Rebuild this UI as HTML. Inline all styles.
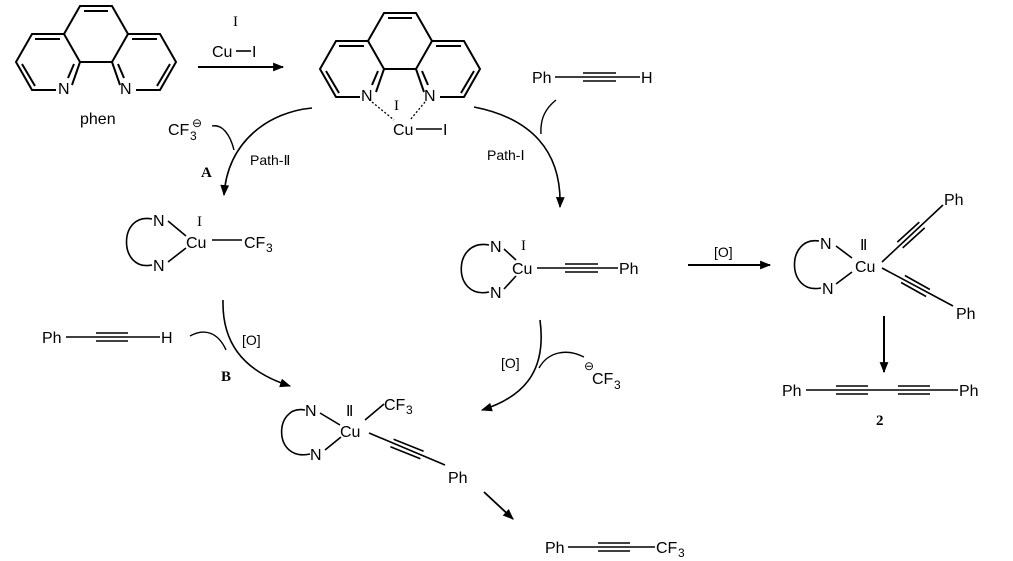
<!DOCTYPE html>
<html><head><meta charset="utf-8"><style>
html,body{margin:0;padding:0;background:#fff;width:1013px;height:561px;overflow:hidden}
svg{display:block}
text{font-family:"Liberation Sans",Arial,sans-serif;font-size:16px;fill:#000}
.s{font-family:"Liberation Serif",serif;font-size:15px}
.b{font-family:"Liberation Serif",serif;font-size:15px;font-weight:bold}
.sm{font-size:12px}
</style></head><body>
<svg width="1013" height="561" viewBox="0 0 1013 561" xmlns="http://www.w3.org/2000/svg">
<defs>
<marker id="ah" viewBox="0 0 10 10" refX="9" refY="5" markerWidth="12" markerHeight="11" orient="auto" markerUnits="userSpaceOnUse"><path d="M0,1 L10,5 L0,9 z" fill="#000"/></marker>
<g id="phen" fill="none" stroke="#000" stroke-width="2">
<path d="M64,34 L80,6 L112,6 L128,34"/>
<path d="M84,11 L108,11"/>
<path d="M80,62 L112,62"/>
<path d="M64,34 L80,62 M128,34 L112,62"/>
<path d="M64,34 L32,34 L16,62 L32,90 L56,90 M72,85 L80,62"/>
<path d="M35,39 L60,39 M22,64 L35,86 M74,64 L68,78"/>
<path d="M128,34 L160,34 L176,62 L160,90 L136,90 M120,85 L112,62"/>
<path d="M132,39 L157,39 M170,64 L157,86 M118,64 L124,78"/>
</g>
</defs>

<use href="#phen"/>
<text x="58" y="94">N</text>
<text x="120" y="94">N</text>
<text x="80" y="124">phen</text>

<line x1="198" y1="67" x2="283" y2="67" stroke="#000" stroke-width="2" marker-end="url(#ah)"/>
<text class="s" x="233" y="26">I</text>
<text x="212" y="57">Cu</text>
<line x1="236" y1="51" x2="251" y2="51" stroke="#000" stroke-width="1.6"/>
<text x="252" y="57">I</text>

<g transform="translate(304,7)"><use href="#phen"/></g>
<text x="361" y="101">N</text>
<text x="424" y="101">N</text>
<path d="M372,102 L394,120 M425,102 L410,120" stroke="#000" stroke-width="1.3" stroke-dasharray="2,2" fill="none"/>
<text class="s" x="394" y="110">I</text>
<text x="393" y="135">Cu</text>
<line x1="416" y1="129" x2="442" y2="129" stroke="#000" stroke-width="1.6"/>
<text x="443" y="135">I</text>

<path d="M312,108 C270,112 228,140 224,195" fill="none" stroke="#000" stroke-width="1.6" marker-end="url(#ah)"/>
<path d="M212,126 C222,124 230,134 234,150" fill="none" stroke="#000" stroke-width="1.4"/>
<text x="168" y="135">CF</text><text class="sm" x="190" y="140">3</text><text class="sm" x="192" y="127">⊖</text>
<text x="250" y="165" style="font-size:14px">Path-Ⅱ</text>
<text class="b" x="201" y="177">A</text>

<text x="153" y="226">N</text>
<text x="153" y="271">N</text>
<path d="M152,219 C118,212 118,272 152,265" fill="none" stroke="#000" stroke-width="1.6"/>
<path d="M168,221 L186,236 M168,262 L186,248" stroke="#000" stroke-width="1.6"/>
<text class="s" x="197" y="226">I</text>
<text x="186" y="248">Cu</text>
<line x1="212" y1="240" x2="242" y2="240" stroke="#000" stroke-width="1.6"/>
<text x="244" y="248">CF</text><text class="sm" x="266" y="252">3</text>

<text x="532" y="83">Ph</text>
<path d="M555,77 L640,77 M583,73 L616,73 M583,81 L616,81" stroke="#000" stroke-width="1.6"/>
<text x="641" y="83">H</text>

<path d="M474,107 C530,118 562,150 560,207" fill="none" stroke="#000" stroke-width="1.6" marker-end="url(#ah)"/>
<path d="M556,100 C546,108 540,118 541,134" fill="none" stroke="#000" stroke-width="1.4"/>
<text x="487" y="160" style="font-size:14px">Path-Ⅰ</text>

<text x="490" y="252">N</text>
<text x="490" y="298">N</text>
<path d="M489,245 C452,238 452,300 489,292" fill="none" stroke="#000" stroke-width="1.6"/>
<path d="M504,249 L516,260 M504,289 L516,276" stroke="#000" stroke-width="1.6"/>
<text class="s" x="521" y="250">I</text>
<text x="512" y="274">Cu</text>
<path d="M537,268 L618,268 M565,264 L598,264 M565,272 L598,272" stroke="#000" stroke-width="1.6"/>
<text x="619" y="274">Ph</text>

<line x1="688" y1="265" x2="770" y2="265" stroke="#000" stroke-width="2" marker-end="url(#ah)"/>
<text x="714" y="257" style="font-size:14px">[O]</text>

<text x="820" y="249">N</text>
<text x="822" y="294">N</text>
<path d="M819,241 C786,236 786,295 821,288" fill="none" stroke="#000" stroke-width="1.6"/>
<path d="M836,246 L852,258 M836,284 L852,272" stroke="#000" stroke-width="1.6"/>
<text class="s" x="860" y="250">Ⅱ</text>
<text x="855" y="272">Cu</text>
<path d="M882,262 L943,205 M902.7,247.9 L924.7,227.9 M897.3,242.1 L919.3,222.1" stroke="#000" stroke-width="1.6"/>
<text x="944" y="205">Ph</text>
<path d="M882,268 L953,306 M901.1,282.5 L926.1,296.5 M904.9,275.5 L929.9,289.5" stroke="#000" stroke-width="1.6"/>
<text x="956" y="319">Ph</text>

<line x1="884" y1="316" x2="884" y2="372" stroke="#000" stroke-width="2" marker-end="url(#ah)"/>
<text x="782" y="396">Ph</text>
<path d="M806,390 L958,390 M836,386 L868,386 M836,394 L868,394 M898,386 L930,386 M898,394 L930,394" stroke="#000" stroke-width="1.6"/>
<text x="959" y="396">Ph</text>
<text class="b" x="876" y="425">2</text>

<text x="42" y="343">Ph</text>
<path d="M66,337 L160,337 M96,333 L128,333 M96,341 L128,341" stroke="#000" stroke-width="1.6"/>
<text x="161" y="343">H</text>
<path d="M223,300 C222,340 240,370 290,386" fill="none" stroke="#000" stroke-width="1.6" marker-end="url(#ah)"/>
<path d="M190,336 C204,328 218,332 226,350" fill="none" stroke="#000" stroke-width="1.4"/>
<text x="242" y="345" style="font-size:14px">[O]</text>
<text class="b" x="221" y="381">B</text>

<path d="M540,320 C546,365 530,395 482,410" fill="none" stroke="#000" stroke-width="1.6" marker-end="url(#ah)"/>
<path d="M539,368 C548,352 566,348 584,357" fill="none" stroke="#000" stroke-width="1.4"/>
<text x="501" y="368" style="font-size:14px">[O]</text>
<text class="sm" x="584" y="370">⊖</text><text x="592" y="384">CF</text><text class="sm" x="614" y="389">3</text>

<text x="305" y="416">N</text>
<text x="310" y="460">N</text>
<path d="M305,410 C274,404 272,462 310,454" fill="none" stroke="#000" stroke-width="1.6"/>
<path d="M320,413 L340,425 M325,450 L341,437" stroke="#000" stroke-width="1.6"/>
<text class="s" x="346" y="416">Ⅱ</text>
<text x="340" y="437">Cu</text>
<path d="M365,420 L384,404" stroke="#000" stroke-width="1.6"/>
<text x="384" y="410">CF</text><text class="sm" x="406" y="414">3</text>
<path d="M369,433 L445,465 M393.6,439.3 L423.6,451.3 M390.4,446.7 L420.4,458.7" stroke="#000" stroke-width="1.6"/>
<text x="448" y="483">Ph</text>
<line x1="484" y1="492" x2="513" y2="519" stroke="#000" stroke-width="1.8" marker-end="url(#ah)"/>

<text x="545" y="553">Ph</text>
<path d="M568,547 L655,547 M598,543 L630,543 M598,551 L630,551" stroke="#000" stroke-width="1.6"/>
<text x="656" y="553">CF</text><text class="sm" x="678" y="557">3</text>
</svg>
</body></html>
